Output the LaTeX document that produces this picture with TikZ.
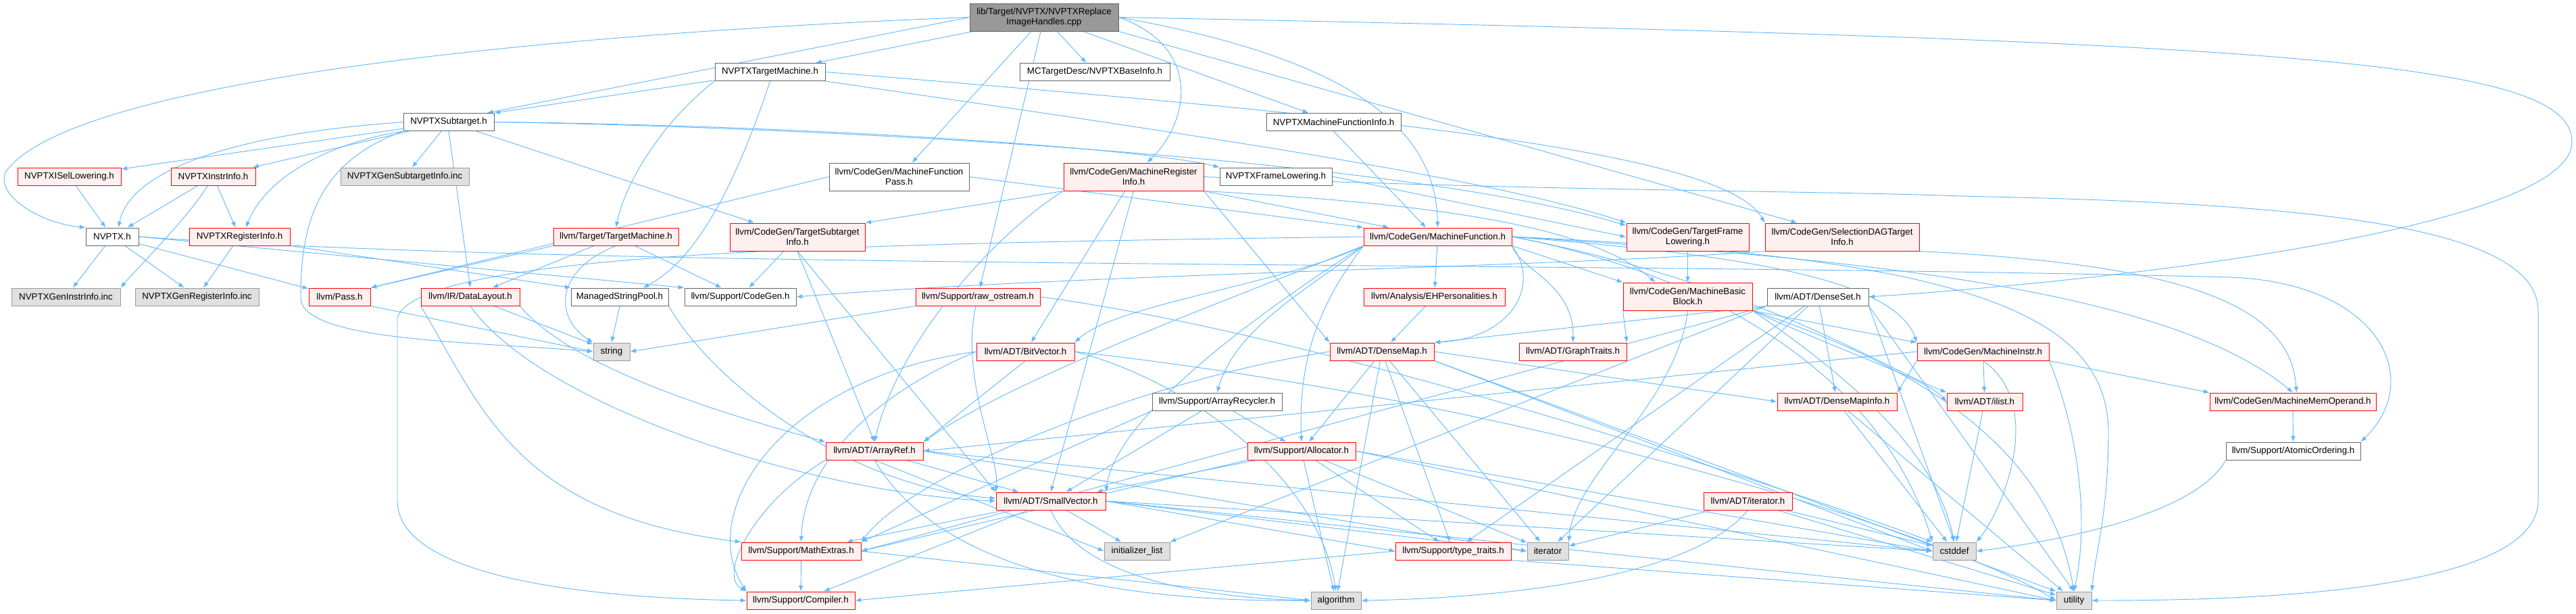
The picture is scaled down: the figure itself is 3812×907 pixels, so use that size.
\documentclass[tikz,border=0pt]{standalone}
\usepackage{fontspec}
\setmainfont{Liberation Sans}
\usepackage{tikz}
\usetikzlibrary{arrows.meta, backgrounds}

\begin{document}
\begin{tikzpicture}[x=0.75pt, y=-0.75pt, >={Latex[length=6.5pt,width=5pt]},
    hdr/.style={rectangle, inner sep=0pt, minimum height=19.5pt, line width=0.75pt,
        font=\fontsize{10}{11.25}\selectfont, align=center},
    redhdr/.style={hdr, draw=redline, fill=redfill},
    plainhdr/.style={hdr, draw=plainline, fill=white},
    syshdr/.style={hdr, draw=sysline, fill=sysfill},
    roothdr/.style={hdr, draw=plainline, fill=rootfill},
    tall/.style={minimum height=30.75pt},
    wd/.style={minimum width=#1*0.75pt},
    dep/.style={->, draw=edgeblue, line width=0.7pt}]
    % Màu của đồ thị
    \definecolor{edgeblue}{RGB}{99, 184, 255}   % mũi tên
    \definecolor{redline}{RGB}{255, 0, 0}       % viền đỏ
    \definecolor{redfill}{RGB}{255, 240, 240}   % nền hồng nhạt
    \definecolor{plainline}{RGB}{102, 102, 102} % viền xám
    \definecolor{sysline}{RGB}{153, 153, 153}
    \definecolor{sysfill}{RGB}{224, 224, 224}
    \definecolor{rootfill}{RGB}{153, 153, 153}

    \useasboundingbox (0,0) rectangle (3812,907);

    % 1. Tệp gốc và tầng trên
    \node[roothdr, wd=220, tall] (root) at (1545,25.5) {lib/Target/NVPTX/NVPTXReplace\\ImageHandles.cpp};
    \node[plainhdr, wd=163] (tgtmach) at (1139.5,106.5) {NVPTXTargetMachine.h};
    \node[plainhdr, wd=222] (baseinfo) at (1620,106.5) {MCTargetDesc/NVPTXBaseInfo.h};
    \node[plainhdr, wd=134] (subtgt) at (664,180.5) {NVPTXSubtarget.h};
    \node[plainhdr, wd=199] (mfinfo) at (1973.5,180.5) {NVPTXMachineFunctionInfo.h};
    \node[redhdr, wd=153] (isel) at (102.5,261) {NVPTXISelLowering.h};
    \node[redhdr, wd=125] (instrinfo) at (315.5,261) {NVPTXInstrInfo.h};
    \node[syshdr, wd=190] (gensubinfo) at (599,261) {NVPTXGenSubtargetInfo.inc};
    \node[plainhdr, wd=207, tall] (mfpass) at (1330.5,261.5) {llvm/CodeGen/MachineFunction\\Pass.h};
    \node[redhdr, wd=207, tall] (mri) at (1677.5,261.5) {llvm/CodeGen/MachineRegister\\Info.h};
    \node[plainhdr, wd=166] (framelow) at (1888,261) {NVPTXFrameLowering.h};

    % 2. Tầng giữa
    \node[plainhdr, wd=78] (nvptx) at (166,350) {NVPTX.h};
    \node[redhdr, wd=149] (reginfo) at (354.5,350) {NVPTXRegisterInfo.h};
    \node[redhdr, wd=185] (llvmtm) at (911.5,350) {llvm/Target/TargetMachine.h};
    \node[redhdr, wd=200, tall] (tsi) at (1180,350.5) {llvm/CodeGen/TargetSubtarget\\Info.h};
    \node[redhdr, wd=219] (mfunc) at (2127.5,350) {llvm/CodeGen/MachineFunction.h};
    \node[redhdr, wd=181, tall] (tfl) at (2497.5,350.5) {llvm/CodeGen/TargetFrame\\Lowering.h};
    \node[redhdr, wd=228, tall] (sdti) at (2726,350.5) {llvm/CodeGen/SelectionDAGTarget\\Info.h};
    \node[syshdr, wd=161] (geninstr) at (97.5,439) {NVPTXGenInstrInfo.inc};
    \node[syshdr, wd=183] (genreg) at (291.5,439) {NVPTXGenRegisterInfo.inc};
    \node[redhdr, wd=91] (pass) at (502.5,439) {llvm/Pass.h};
    \node[redhdr, wd=146] (dlayout) at (696,439) {llvm/IR/DataLayout.h};
    \node[plainhdr, wd=144] (strpool) at (917,439) {ManagedStringPool.h};
    \node[plainhdr, wd=165] (codegen) at (1095.5,439) {llvm/Support/CodeGen.h};
    \node[redhdr, wd=184] (rawos) at (1447,439) {llvm/Support/raw\_ostream.h};
    \node[redhdr, wd=209] (ehpers) at (2122.5,439) {llvm/Analysis/EHPersonalities.h};
    \node[redhdr, wd=191, tall] (mbb) at (2497.5,438.5) {llvm/CodeGen/MachineBasic\\Block.h};
    \node[plainhdr, wd=150] (denseset) at (2690,439) {llvm/ADT/DenseSet.h};

    % 3. Tầng dưới
    \node[syshdr, wd=54] (str) at (905,520) {string};
    \node[redhdr, wd=145] (bitvec) at (1517.5,520) {llvm/ADT/BitVector.h};
    \node[redhdr, wd=154] (densemap) at (2045,520) {llvm/ADT/DenseMap.h};
    \node[redhdr, wd=159] (graphtr) at (2327.5,520) {llvm/ADT/GraphTraits.h};
    \node[redhdr, wd=195] (minstr) at (2934.5,520) {llvm/CodeGen/MachineInstr.h};
    \node[plainhdr, wd=192] (arrrec) at (1801,594) {llvm/Support/ArrayRecycler.h};
    \node[redhdr, wd=177] (dmapinfo) at (2718.5,594) {llvm/ADT/DenseMapInfo.h};
    \node[redhdr, wd=112] (ilist) at (2937,594) {llvm/ADT/ilist.h};
    \node[redhdr, wd=246] (mmo) at (3393,594) {llvm/CodeGen/MachineMemOperand.h};
    \node[redhdr, wd=144] (arrref) at (1294,667) {llvm/ADT/ArrayRef.h};
    \node[redhdr, wd=160] (alloc) at (1926,667) {llvm/Support/Allocator.h};
    \node[plainhdr, wd=199] (atomic) at (3393.5,667) {llvm/Support/AtomicOrdering.h};
    \node[redhdr, wd=162] (smallvec) at (1555,741) {llvm/ADT/SmallVector.h};
    \node[redhdr, wd=131] (iterh) at (2586.5,741) {llvm/ADT/iterator.h};
    \node[redhdr, wd=177] (mathx) at (1185.5,815) {llvm/Support/MathExtras.h};
    \node[syshdr, wd=97] (initlist) at (1682.5,815) {initializer\_list};
    \node[redhdr, wd=171] (typetr) at (2150.5,815) {llvm/Support/type\_traits.h};
    \node[syshdr, wd=61] (iter) at (2290.5,815) {iterator};
    \node[syshdr, wd=64] (cstddef) at (2892,815) {cstddef};
    \node[redhdr, wd=160] (compiler) at (1185,888) {llvm/Support/Compiler.h};
    \node[syshdr, wd=74] (algo) at (1977,888) {algorithm};
    \node[syshdr, wd=52] (utility) at (3069,888) {utility};

    \begin{pgfonlayer}{background}
    % 4. Cạnh từ tệp gốc
    \draw[dep] (root) -- (tgtmach);
    \draw[dep] (root) -- (baseinfo);
    \draw[dep] (root.west) -- ([xshift=-8pt]subtgt.north east);
    \draw[dep] (root.west) .. controls (800,50) and (100,120) .. (8,255)
        .. controls (-6,290) and (60,330) .. (nvptx.north west);
    \draw[dep] (root) -- (mfpass);
    \draw[dep] (root) -- (rawos);
    \draw[dep] (root.east) .. controls (1780,70) and (1760,180) .. ([xshift=15pt]mri.north);
    \draw[dep] (root) -- (mfinfo);
    \draw[dep] (root.east) .. controls (2020,90) and (2125,200) .. (mfunc.north);
    \draw[dep] (root.south east) -- ([xshift=-50pt]sdti.north);
    \draw[dep] (root.east) .. controls (3400,60) and (3806,90) .. (3806,210)
        .. controls (3806,330) and (3200,410) .. (denseset.east);

    % 5. Cạnh từ các tệp NVPTX
    \draw[dep] (tgtmach) -- (subtgt.north east);
    \draw[dep] (tgtmach.south west) .. controls (980,180) and (925,270) .. (llvmtm.north);
    \draw[dep] (tgtmach.south) .. controls (1080,300) and (1020,390) .. ([xshift=26pt]strpool.north);
    \draw[dep] (tgtmach.east) .. controls (2000,170) and (2550,220) .. (sdti.north west);
    \draw[dep] (tgtmach.south east) .. controls (1700,190) and (2200,260) .. (tfl.north west);
    \draw[dep] (subtgt) -- (isel);
    \draw[dep] (subtgt) -- (instrinfo);
    \draw[dep] (subtgt) -- (gensubinfo);
    \draw[dep] (subtgt.west) .. controls (320,200) and (190,260) .. ([xshift=7pt]nvptx.north);
    \draw[dep] (subtgt.south west) .. controls (470,215) and (390,270) .. ([xshift=7pt]reginfo.north);
    \draw[dep] (subtgt.south west) .. controls (470,240) and (445,330) .. (445,440)
        .. controls (445,505) and (700,505) .. (str.west);
    \draw[dep] (subtgt.south) -- (dlayout.north);
    \draw[dep] (subtgt) -- (tsi);
    \draw[dep] (subtgt.east) .. controls (1200,185) and (1700,220) .. (framelow.north west);
    \draw[dep] (subtgt.east) .. controls (1300,190) and (2100,240) .. ([yshift=-3pt]tfl.north west);
    \draw[dep] (isel) -- (nvptx);
    \draw[dep] (instrinfo) -- (nvptx);
    \draw[dep] (instrinfo) -- (reginfo);
    \draw[dep] (instrinfo) .. controls (280,320) and (200,400) .. (geninstr.north east);
    \draw[dep] (nvptx) -- (geninstr);
    \draw[dep] (nvptx) -- (genreg);
    \draw[dep] (nvptx) -- (pass);
    \draw[dep] (nvptx.east) -- (codegen.north west);
    \draw[dep] (nvptx.east) .. controls (900,400) and (2300,385) .. (3300,410)
        .. controls (3520,418) and (3590,560) .. (atomic.north east);
    \draw[dep] (reginfo) -- (genreg);
    \draw[dep] (reginfo.south east) -- (strpool.north west);
    \draw[dep] (framelow.east) -- (tfl.west);

    % 6. Cạnh từ các tệp CodeGen
    \draw[dep] (mfpass.west) -- (pass.north east);
    \draw[dep] (mfpass.east) -- (mfunc.north west);
    \draw[dep] (mri.south west) -- (tsi.north east);
    \draw[dep] (mri.south east) -- ([xshift=-54pt]mfunc.north);
    \draw[dep] (mri.south east) .. controls (2100,300) and (2350,330) .. ([xshift=-36pt]mbb.north);
    \draw[dep] (mri.south west) .. controls (1480,340) and (1330,500) .. (arrref.north);
    \draw[dep] (mri) -- (bitvec);
    \draw[dep] (mri.south) -- (smallvec.north);
    \draw[dep] (mri.south east) -- (densemap.north west);
    \draw[dep] (mri.east) .. controls (2300,283) and (2700,282) .. (2900,290)
        .. controls (3400,300) and (3756,330) .. (3756,460) -- (3756,740)
        .. controls (3756,880) and (3300,888) .. (utility.east);
    \draw[dep] (mfinfo.south) -- ([xshift=-13pt]mfunc.north);
    \draw[dep] (llvmtm.south west) -- (pass.north east);
    \draw[dep] (llvmtm) -- (dlayout);
    \draw[dep] (llvmtm) -- (codegen);
    \draw[dep] (llvmtm.south) .. controls (820,400) and (820,470) .. (str.north west);
    \draw[dep] (tsi) -- (codegen);
    \draw[dep] (tsi.south) -- (arrref.north);
    \draw[dep] (tsi.south) -- (smallvec.north west);
    \draw[dep] (mfunc) -- (ehpers);
    \draw[dep] (mfunc.south east) -- (mbb.north west);
    \draw[dep] (mfunc.south east) .. controls (2280,420) and (2240,500) .. (densemap.north east);
    \draw[dep] (mfunc.south east) .. controls (2250,400) and (2330,420) .. (graphtr.north);
    \draw[dep] (mfunc.south west) .. controls (1900,420) and (1650,450) .. (bitvec.north east);
    \draw[dep] (mfunc.south west) .. controls (1800,450) and (1500,560) .. (arrref.north east);
    \draw[dep] (mfunc.south west) .. controls (1850,470) and (1650,620) .. (smallvec.north east);
    \draw[dep] (mfunc.south west) .. controls (1950,420) and (1830,480) .. (arrrec.north);
    \draw[dep] (mfunc.south west) .. controls (1960,440) and (1920,520) .. (alloc.north);
    \draw[dep] (mfunc.east) .. controls (2500,372) and (2800,400) .. (minstr.north west);
    \draw[dep] (mfunc.east) .. controls (2600,420) and (2780,540) .. (ilist.north west);
    \draw[dep] (mfunc.east) .. controls (2700,380) and (3200,420) .. (mmo.north);
    \draw[dep] (mfunc.east) .. controls (2600,420) and (2800,600) .. (cstddef.north west);
    \draw[dep] (mfunc.east) .. controls (2900,380) and (3120,460) .. (3120,640)
        .. controls (3120,760) and (3100,820) .. (utility.north east);
    \draw[dep] (mfunc.west) .. controls (1300,360) and (620,370) .. (588,470) -- (588,740)
        .. controls (588,860) and (900,885) .. (compiler.west);
    \draw[dep] (tfl) -- (mbb);
    \draw[dep] (sdti.south west) .. controls (2300,395) and (1600,405) .. (codegen.east);
    \draw[dep] (sdti.south east) .. controls (3200,390) and (3390,440) .. ([xshift=4pt]mmo.north);

    % 7. Cạnh từ các tệp hỗ trợ
    \draw[dep] (dlayout) -- (str);
    \draw[dep] (dlayout.south east) .. controls (850,550) and (1100,620) .. (arrref.north west);
    \draw[dep] (dlayout.south) .. controls (800,600) and (1200,730) .. (smallvec.west);
    \draw[dep] (dlayout.south west) .. controls (712,600) and (760,760) .. (mathx.north west);
    \draw[dep] (strpool.south) -- (str.north);
    \draw[dep] (strpool.south east) .. controls (1050,560) and (1250,720) .. ([yshift=3pt]smallvec.west);
    \draw[dep] (pass.south east) -- (str.west);
    \draw[dep] (rawos.south west) -- (str.east);
    \draw[dep] (rawos) .. controls (1420,560) and (1480,680) .. (smallvec.north west);
    \draw[dep] (rawos.east) .. controls (2000,500) and (2750,760) .. (cstddef.north west);
    \draw[dep] (ehpers) -- (densemap);
    \draw[dep] (mbb.south west) -- (graphtr.north east);
    \draw[dep] (mbb.south east) -- (minstr.north west);
    \draw[dep] (mbb.south east) .. controls (2750,530) and (2850,560) .. (ilist.west);
    \draw[dep] (mbb.south) .. controls (2480,600) and (2330,700) .. (iter.north east);
    \draw[dep] (mbb.south east) .. controls (2800,600) and (2870,700) .. (cstddef.north);
    \draw[dep] (mbb.south east) .. controls (2900,560) and (3040,700) .. (utility.north);
    \draw[dep] (denseset.south west) -- (densemap.north east);
    \draw[dep] (denseset) -- (dmapinfo);
    \draw[dep] (denseset.south west) -- (mathx.east);
    \draw[dep] (denseset) -- (typetr);
    \draw[dep] (denseset.south west) -- (initlist.north east);
    \draw[dep] (denseset) -- (iter);
    \draw[dep] (denseset.south east) -- (cstddef.north);
    \draw[dep] (denseset.south east) -- (utility.north);
    \draw[dep] (bitvec.south) -- (arrref.north east);
    \draw[dep] (bitvec.west) .. controls (1300,580) and (1190,680) .. (mathx.north);
    \draw[dep] (bitvec.west) .. controls (1150,560) and (1030,760) .. (compiler.north west);
    \draw[dep] (bitvec.east) .. controls (1750,560) and (1950,700) .. (algo.north);
    \draw[dep] (bitvec.east) .. controls (2300,600) and (2900,800) .. (utility.west);
    \draw[dep] (densemap.east) -- (dmapinfo.west);
    \draw[dep] (densemap) -- (alloc);
    \draw[dep] (densemap.west) .. controls (1700,560) and (1350,700) .. (mathx.north east);
    \draw[dep] (densemap) -- (typetr);
    \draw[dep] (densemap) -- (iter);
    \draw[dep] (densemap) -- (algo);
    \draw[dep] (densemap.south east) -- (cstddef.west);
    \draw[dep] (densemap.south east) -- (utility.north west);
    \draw[dep] (minstr) -- (ilist);
    \draw[dep] (minstr.south east) -- (mmo.north west);
    \draw[dep] (minstr.south west) -- (dmapinfo.north east);
    \draw[dep] (minstr.west) -- (arrref.east);
    \draw[dep] (minstr.south) .. controls (3030,600) and (2960,760) .. (cstddef.north east);
    \draw[dep] (minstr.south east) .. controls (3080,650) and (3090,780) .. (utility.north);
    \draw[dep] (arrrec) -- (alloc);
    \draw[dep] (arrrec) -- (smallvec);
    \draw[dep] (arrrec.south west) -- (mathx.north east);
    \draw[dep] (dmapinfo) -- (cstddef);
    \draw[dep] (dmapinfo) -- (utility);
    \draw[dep] (ilist) -- (cstddef);
    \draw[dep] (mmo) -- (atomic);
    \draw[dep] (atomic.south west) .. controls (3250,760) and (3050,800) .. (cstddef.east);

    % 8. Tầng cuối
    \draw[dep] (arrref) -- (smallvec);
    \draw[dep] (arrref.south west) .. controls (1120,740) and (1060,850) .. (compiler.north west);
    \draw[dep] (arrref.south) -- (initlist.west);
    \draw[dep] (arrref.south) .. controls (1400,860) and (1700,890) .. (algo.west);
    \draw[dep] (arrref.east) -- (iter.west);
    \draw[dep] (arrref.east) -- (cstddef.west);
    \draw[dep] (alloc) -- (smallvec);
    \draw[dep] (alloc.south west) -- (mathx.east);
    \draw[dep] (alloc) -- (typetr);
    \draw[dep] (alloc) -- (iter);
    \draw[dep] (alloc) -- (algo);
    \draw[dep] (alloc.east) -- (cstddef.west);
    \draw[dep] (alloc.east) -- (utility.west);
    \draw[dep] (smallvec) -- (mathx);
    \draw[dep] (smallvec) -- (compiler);
    \draw[dep] (smallvec) -- (initlist);
    \draw[dep] (smallvec.south) .. controls (1600,860) and (1800,885) .. (algo.west);
    \draw[dep] (smallvec.east) -- (iter.west);
    \draw[dep] (smallvec.east) -- (cstddef.west);
    \draw[dep] (smallvec.east) -- (utility.west);
    \draw[dep] (smallvec.east) -- (typetr.west);
    \draw[dep] (iterh) -- (iter);
    \draw[dep] (iterh.south) .. controls (2500,860) and (2200,885) .. (algo.east);
    \draw[dep] (iterh) -- (utility);
    \draw[dep] (iterh) -- (cstddef);
    \draw[dep] (mathx) -- (compiler);
    \draw[dep] (mathx.east) -- (algo.west);
    \draw[dep] (typetr.west) -- (compiler.east);
    \draw[dep] (typetr.south east) -- (utility.west);
    \end{pgfonlayer}
\end{tikzpicture}
\end{document}
